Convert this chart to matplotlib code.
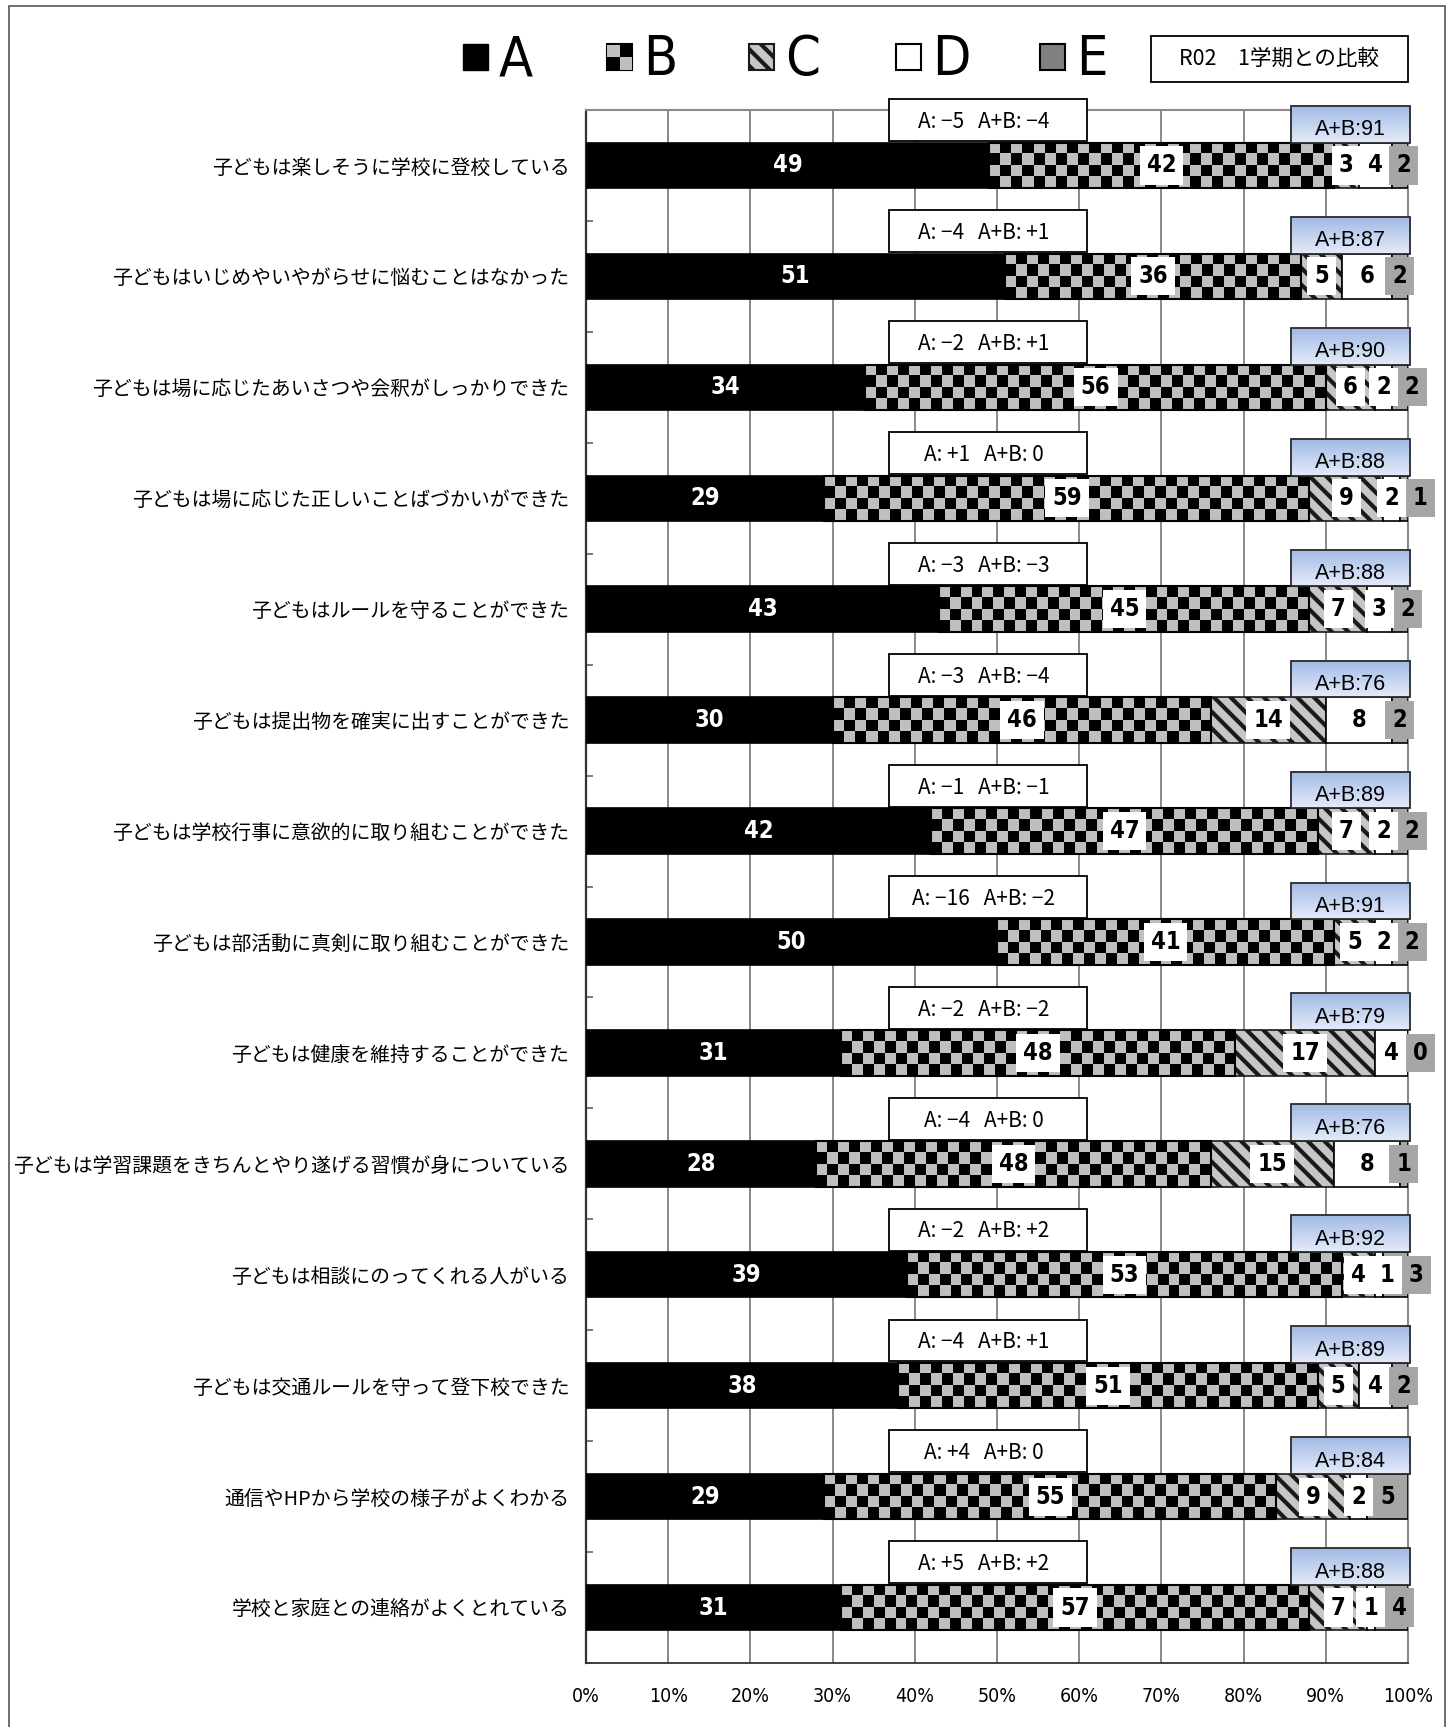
import numpy as np
import matplotlib
matplotlib.use('Agg')
import matplotlib.pyplot as plt
from matplotlib import font_manager
from matplotlib.patches import Rectangle
from matplotlib.colors import ListedColormap, LinearSegmentedColormap

###############################################################################
## data
###############################################################################

questions = [
    '子どもは楽しそうに学校に登校している',
    '子どもはいじめやいやがらせに悩むことはなかった',
    '子どもは場に応じたあいさつや会釈がしっかりできた',
    '子どもは場に応じた正しいことばづかいができた',
    '子どもはルールを守ることができた',
    '子どもは提出物を確実に出すことができた',
    '子どもは学校行事に意欲的に取り組むことができた',
    '子どもは部活動に真剣に取り組むことができた',
    '子どもは健康を維持することができた',
    '子どもは学習課題をきちんとやり遂げる習慣が身についている',
    '子どもは相談にのってくれる人がいる',
    '子どもは交通ルールを守って登下校できた',
    '通信やHPから学校の様子がよくわかる',
    '学校と家庭との連絡がよくとれている',
]
a_vals = [49, 51, 34, 29, 43, 30, 42, 50, 31, 28, 39, 38, 29, 31]
b_vals = [42, 36, 56, 59, 45, 46, 47, 41, 48, 48, 53, 51, 55, 57]
c_vals = [3, 5, 6, 9, 7, 14, 7, 5, 17, 15, 4, 5, 9, 7]
d_vals = [4, 6, 2, 2, 3, 8, 2, 2, 4, 8, 1, 4, 2, 1]
e_vals = [2, 2, 2, 1, 2, 2, 2, 2, 0, 1, 3, 2, 5, 4]
# change against the 1st term (R02)
diff_a = ['−5', '−4', '−2', '+1', '−3', '−3', '−1', '−16', '−2', '−4', '−2', '−4', '+4', '+5']
diff_ab = ['−4', '+1', '+1', '0', '−3', '−4', '−1', '−2', '−2', '0', '+2', '+1', '0', '+2']
legend_names = ['A', 'B', 'C', 'D', 'E']
xtick_vals = list(range(0, 101, 10))

###############################################################################
## fonts
###############################################################################

def narrow_props(weight='normal'):
    """condensed face if there is one, otherwise Liberation Sans"""
    try:
        path = font_manager.findfont(
            font_manager.FontProperties(family='DejaVu Sans', stretch='condensed', weight=weight),
            fallback_to_default=False)
        if 'Condensed' in path:
            return dict(family='DejaVu Sans', stretch='condensed', weight=weight)
    except ValueError:
        pass
    return dict(family='Liberation Sans', weight=weight)

jp = ['Noto Sans CJK JP', 'DejaVu Sans']
plt.rcParams['font.family'] = jp
plt.rcParams['hatch.linewidth'] = 3.0

###############################################################################
## figure
###############################################################################

W, H = 1454, 1727
fig = plt.figure(figsize=(W / 100, H / 100), dpi=100)
ax = fig.add_axes([586 / W, 64 / H, 822 / W, 1553 / H])

n = len(questions)
y = np.arange(n)
h = 0.41
a = np.array(a_vals)
b = np.array(b_vals)
c = np.array(c_vals)
d = np.array(d_vals)
e = np.array(e_vals)

px_per_pct = 822 / 100.0
cell_px = 11.0
checker_cmap = ListedColormap(['#bfbfbf', '#000000'])
blue_cmap = LinearSegmentedColormap.from_list('blue', ['#a2bae6', '#e4ebf9'])

# A
ax.barh(y, a, height=h, color='black', edgecolor='black', lw=1.2, zorder=3)
# B : checker pattern
for yi, x0, w in zip(y, a, b):
    ncols = max(1, int(round(w * px_per_pct / cell_px)))
    grid = np.add.outer(np.arange(4), np.arange(ncols)) % 2
    ax.imshow(grid, cmap=checker_cmap, vmin=0, vmax=1, interpolation='nearest',
              extent=(x0, x0 + w, yi + h / 2, yi - h / 2), aspect='auto', zorder=3)
    ax.add_patch(Rectangle((x0, yi - h / 2), w, h, fill=False, ec='black', lw=1.5, zorder=3.5))
# C : diagonal hatch
ax.barh(y, c, left=a + b, height=h, color='#c6c6c6', edgecolor='#1a1a1a',
        hatch='\\\\', lw=1.2, zorder=3)
# D, E
ax.barh(y, d, left=a + b + c, height=h, color='white', edgecolor='black', lw=1.2, zorder=3)
ax.barh(y, e, left=a + b + c + d, height=h, color='#a6a6a6', edgecolor='black', lw=1.2, zorder=3)

lab_font = dict(size=17, **narrow_props('bold'))
for i in range(n):
    ax.text(a[i] / 2, y[i], str(a[i]), color='white', ha='center', va='center',
            zorder=6, **lab_font)
    ax.text(a[i] + b[i] / 2, y[i], str(b[i]), color='black', ha='center', va='center',
            zorder=6, bbox=dict(boxstyle='square,pad=0.3', fc='white', ec='none'), **lab_font)
    # C, D, E labels pushed right so they don't sit on top of each other
    starts = [a[i] + b[i], a[i] + b[i] + c[i], a[i] + b[i] + c[i] + d[i]]
    vals = [c[i], d[i], e[i]]
    pos = [s + v / 2 for s, v in zip(starts, vals)]
    for k in (1, 2):
        pos[k] = max(pos[k], pos[k - 1] + 3.5)
    fcs = ['white', 'white', '#a6a6a6']
    for k in range(3):
        ax.text(pos[k], y[i], str(vals[k]), color='black', ha='center', va='center',
                zorder=6 + k * 0.1,
                bbox=dict(boxstyle='square,pad=0.3', fc=fcs[k], ec='none'), **lab_font)

    # comparison box
    ax.add_patch(Rectangle((36.9, y[i] - 0.596), 24.1, 0.378, fc='white', ec='black',
                           lw=1.3, zorder=5, clip_on=False))
    ax.text(36.9 + 24.1 / 2 - 0.6, y[i] - 0.39, 'A: %s   A+B: %s' % (diff_a[i], diff_ab[i]),
            size=15, ha='center', va='center', zorder=6, clip_on=False)
    # A+B box with gradient fill
    ab_top = y[i] - 0.536
    ab_bot = y[i] - h / 2
    ax.imshow(np.linspace(0, 1, 64).reshape(-1, 1), cmap=blue_cmap, aspect='auto',
              extent=(85.8, 100.3, ab_bot, ab_top), zorder=4.5, clip_on=False)
    ax.add_patch(Rectangle((85.8, ab_top), 14.5, ab_bot - ab_top, fill=False,
                           ec='#2a2a2a', lw=1.3, zorder=5, clip_on=False))
    ax.text(93.05, y[i] - 0.32, 'A+B:%d' % (a[i] + b[i]), family='Liberation Sans',
            size=15.5, ha='center', va='center', zorder=6, clip_on=False)

ax.set_xlim(0, 100)
ax.set_ylim(n - 0.5, -0.5)
ax.set_axisbelow(True)
ax.set_xticks(xtick_vals, ['%d%%' % v for v in xtick_vals], size=14, **narrow_props('normal'))
ax.grid(axis='x', color='#808080', lw=1.3, zorder=0)
ax.tick_params(axis='x', length=0, pad=17)
ax.set_yticks(y, questions, size=14.3)
ax.tick_params(axis='y', which='major', length=0, pad=12)
ax.set_yticks(np.arange(-0.5, n, 1), minor=True)
ax.tick_params(axis='y', which='minor', direction='in', length=5, width=1.3, color='#707070')
for side in ('top', 'right'):
    ax.spines[side].set_color('#8a8a8a')
    ax.spines[side].set_linewidth(1.5)
ax.spines['left'].set_color('#333333')
ax.spines['left'].set_linewidth(1.6)
ax.spines['bottom'].set_color('#333333')
ax.spines['bottom'].set_linewidth(1.3)

###############################################################################
## legend and title box on top
###############################################################################

tf = fig.transFigure
sq = 25
ycen = 57
leg_x = [463, 607, 749, 896, 1040]
leg_font = narrow_props('normal')
for k, (name, x0) in enumerate(zip(legend_names, leg_x)):
    x_f, y_f = x0 / W, 1 - (ycen + sq / 2) / H
    w_f, h_f = sq / W, sq / H
    if k == 0:
        fig.add_artist(Rectangle((x_f, y_f), w_f, h_f, transform=tf, fc='black', ec='black'))
    elif k == 1:
        fig.add_artist(Rectangle((x_f, y_f), w_f, h_f, transform=tf, fc='black', ec='black', lw=1.5))
        for (dx, dy) in [(0, 1), (1, 0)]:
            fig.add_artist(Rectangle((x_f + dx * w_f / 2, y_f + dy * h_f / 2), w_f / 2, h_f / 2,
                                     transform=tf, fc='#bfbfbf', ec='none'))
    elif k == 2:
        fig.add_artist(Rectangle((x_f, y_f), w_f, h_f, transform=tf, fc='#c6c6c6',
                                 ec='#1a1a1a', hatch='\\\\', lw=1.5))
    elif k == 3:
        fig.add_artist(Rectangle((x_f, y_f), w_f, h_f, transform=tf, fc='white', ec='black', lw=1.5))
    else:
        fig.add_artist(Rectangle((x_f, y_f), w_f, h_f, transform=tf, fc='#808080', ec='black', lw=1.5))
    fig.text((x0 + sq + 11) / W, 1 - (ycen + 3) / H, name, size=40,
             ha='left', va='center', **leg_font)

fig.add_artist(Rectangle((1151 / W, 1 - 82 / H), 257 / W, 46 / H, transform=tf,
                         fc='white', ec='black', lw=1.3))
fig.text(1279 / W, 1 - 59 / H, 'R02\u30001学期との比較', size=15.5, ha='center', va='center')

# outer frame
fig.add_artist(Rectangle((9 / W, -0.01), 1436 / W, 1.01 - 5.5 / H, transform=tf,
                         fill=False, ec='#555555', lw=1.2))

fig.savefig('out.png', dpi=100)
